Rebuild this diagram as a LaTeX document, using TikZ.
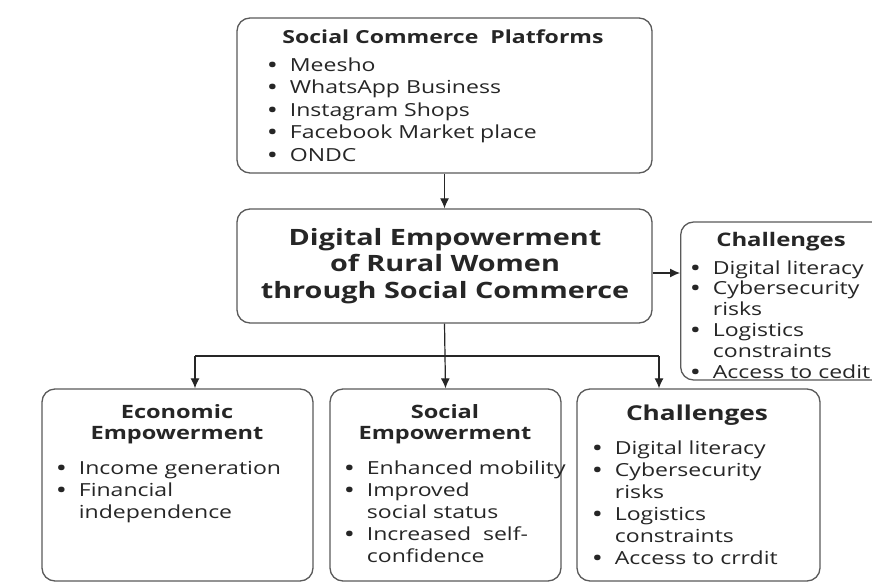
\documentclass[tikz,border=0pt]{standalone}
\usepackage{fontspec}
\setmainfont{Open Sans}[FakeStretch=1.28]
\usetikzlibrary{positioning,arrows.meta}

\definecolor{ink}{HTML}{262626}
\definecolor{rim}{HTML}{5A5A5A}

\newcommand{\bul}{{\bfseries\textbullet}}

\begin{document}
\begin{tikzpicture}[x=1pt,y=-1pt,
  box/.style={draw=rim, line width=1.3pt, rounded corners=13pt, inner sep=0pt},
  head/.style={text=ink, font=\bfseries\fontsize{18}{21}\selectfont, align=center, inner sep=0pt},
  bighead/.style={text=ink, font=\bfseries\fontsize{18.4}{21}\selectfont, align=center, inner sep=0pt},
  list/.style={text=ink, anchor=base west, inner sep=0pt},
  arr/.style={-{Latex[length=10pt,width=9pt]}, draw=ink, line width=1.2pt}]

\useasboundingbox[fill=white] (0,0) rectangle (872,586);
\clip (0,0) rectangle (872,586);

% Platforms on top
\node[box, minimum width=415pt, minimum height=155pt] (plat) at (444.5,95.5) {};
\node[head] (plathead) at (443,37) {Social Commerce\ \ Platforms};
\node[list, font=\fontsize{18}{22.5}\selectfont] (platlist) at (268,71)
  {\begin{tabular}[t]{@{}l@{\hspace{13pt}}l@{}}
   \bul & Meesho\\
   \bul & WhatsApp Business\\
   \bul & Instagram Shops\\
   \bul & Facebook Market place\\
   \bul & ONDC
   \end{tabular}};

% Central box
\node[box, minimum width=415pt, minimum height=114pt] (main) at (444.5,266) {};
\node[text=ink, font=\bfseries\fontsize{22.5}{26.5}\selectfont, align=center, inner sep=0pt]
  (maintext) at (445,266) {Digital Empowerment\\of Rural Women\\through Social Commerce};

% Challenges on the right side, running past the edge
\node[box, anchor=west, minimum width=360pt, minimum height=158pt] (sidechal) at (680,301) {};
\node[head, font=\bfseries\fontsize{18.7}{21}\selectfont] (sidehead) at (781,242) {Challenges};
\node[list, font=\fontsize{18}{20.8}\selectfont] (sidelist) at (691,274)
  {\begin{tabular}[t]{@{}l@{\hspace{13pt}}l@{}}
   \bul & Digital literacy\\
   \bul & Cybersecurity\\
        & risks\\
   \bul & Logistics\\
        & constraints\\
   \bul & Access to cedit
   \end{tabular}};

% Three boxes in the bottom row
\node[box, minimum width=271pt, minimum height=192pt] (econ) at (177.5,485) {};
\node[bighead] (econhead) at (177,424) {Economic\\Empowerment};
\node[list, font=\fontsize{18}{22}\selectfont] (econlist) at (57,474)
  {\begin{tabular}[t]{@{}l@{\hspace{13pt}}l@{}}
   \bul & Income generation\\
   \bul & Financial\\
        & independence
   \end{tabular}};

\node[box, minimum width=231pt, minimum height=192pt] (social) at (445.5,485) {};
\node[bighead] (socialhead) at (445,424) {Social\\Empowerment};
\node[list, font=\fontsize{18}{22}\selectfont] (sociallist) at (345,474)
  {\begin{tabular}[t]{@{}l@{\hspace{13pt}}l@{}}
   \bul & Enhanced mobility\\
   \bul & Improved\\
        & social status\\
   \bul & Increased\ \ self-\\
        & confidence
   \end{tabular}};

\node[box, minimum width=243pt, minimum height=192pt] (chal) at (698.5,485) {};
\node[bighead, font=\bfseries\fontsize{20.5}{22}\selectfont] (chalhead) at (697,415) {Challenges};
\node[list, font=\fontsize{18}{22}\selectfont] (challist) at (593,454)
  {\begin{tabular}[t]{@{}l@{\hspace{13pt}}l@{}}
   \bul & Digital literacy\\
   \bul & Cybersecurity\\
        & risks\\
   \bul & Logistics\\
        & constraints\\
   \bul & Access to crrdit
   \end{tabular}};

% Arrows
\draw[arr] (plat) -- (main);
\draw[arr] ([yshift=-7pt]main.east) -- ([yshift=-7pt]main.east -| sidechal.west);

\coordinate (split) at (445,356);
\coordinate (leftturn) at (195,356);
\coordinate (rightturn) at (659,356);
\draw[line width=1.2pt, draw=ink] (main.south) -- (split);
\draw[line width=1.2pt, draw=ink] (leftturn) -- (rightturn);
\draw[arr] (split) -- (social.north);
\draw[arr] (leftturn) -- (leftturn |- econ.north);
\draw[arr] (rightturn) -- (rightturn |- chal.north);

\end{tikzpicture}
\end{document}
